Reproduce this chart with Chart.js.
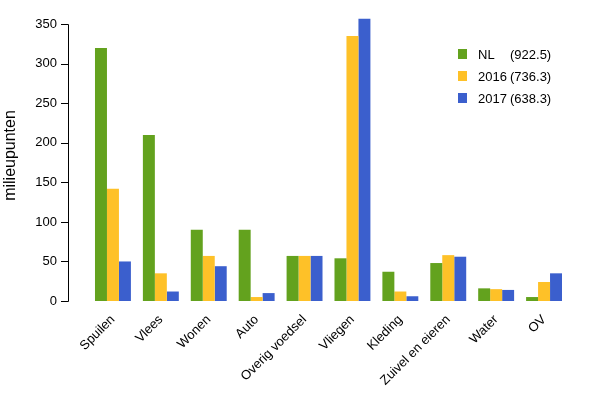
<!DOCTYPE html>
<html lang="nl">
<head>
    <meta charset="UTF-8">
    <title>Milieupunten per categorie</title>
    <script src="https://cdn.jsdelivr.net/npm/chart.js"></script>
    <style>
        body {
            margin: 0;
            padding: 0;
            background: #ffffff;
        }
        canvas {
            display: block;
        }
    </style>
</head>
<body>
    <canvas id="milieuChart" width="600" height="400"></canvas>

    <script>
        // data
        const categories = ['Spuilen', 'Vlees', 'Wonen', 'Auto', 'Overig voedsel', 'Vliegen', 'Kleding', 'Zuivel en eieren', 'Water', 'OV'];
        const nlValues = [320, 210, 90, 90, 57, 54, 37, 48, 16, 5];
        const values2016 = [142, 35, 57, 5, 57, 335, 12, 58, 15, 24];
        const values2017 = [50, 12, 44, 10, 57, 357, 6, 56, 14, 35];
        const seriesNames = ['NL', '2016', '2017'];
        const seriesTotals = ['(922.5)', '(736.3)', '(638.3)'];
        const yTicks = [0, 50, 100, 150, 200, 250, 300, 350];

        const colors = ['#63a21e', '#fec128', '#3b5fcd'];
        const font = "'Liberation Sans', Arial, sans-serif";

        // R-style y axis: line and ticks set off to the left of the bars
        const rAxisPlugin = {
            id: 'rAxis',
            afterDraw(chart) {
                const ctx = chart.ctx;
                const y = chart.scales.y;
                const x0 = chart.chartArea.left - 21;
                ctx.save();
                ctx.strokeStyle = '#000';
                ctx.lineWidth = 1;
                ctx.beginPath();
                ctx.moveTo(x0 + 0.5, Math.round(y.getPixelForValue(yTicks[0])) + 0.5);
                ctx.lineTo(x0 + 0.5, Math.round(y.getPixelForValue(yTicks[yTicks.length - 1])) + 0.5);
                yTicks.forEach(v => {
                    const py = Math.round(y.getPixelForValue(v)) + 0.5;
                    ctx.moveTo(x0 - 7, py);
                    ctx.lineTo(x0 + 0.5, py);
                });
                ctx.stroke();
                ctx.restore();
            }
        };

        // legend drawn inside the plot, top right
        const legendPlugin = {
            id: 'innerLegend',
            afterDraw(chart) {
                const ctx = chart.ctx;
                ctx.save();
                ctx.font = '13px ' + font;
                ctx.textBaseline = 'middle';
                ctx.fillStyle = '#000';
                seriesNames.forEach((name, i) => {
                    const cy = 54 + i * 22;
                    ctx.fillStyle = colors[i];
                    ctx.fillRect(458, cy - 5, 9, 10);
                    ctx.fillStyle = '#000';
                    ctx.fillText(name, 478, cy + 1);
                    ctx.fillText(seriesTotals[i], 510, cy + 1);
                });
                ctx.restore();
            }
        };

        const ctx = document.getElementById('milieuChart').getContext('2d');
        const chart = new Chart(ctx, {
            type: 'bar',
            data: {
                labels: categories,
                datasets: [
                    { label: seriesNames[0], data: nlValues, backgroundColor: colors[0] },
                    { label: seriesNames[1], data: values2016, backgroundColor: colors[1] },
                    { label: seriesNames[2], data: values2017, backgroundColor: colors[2] }
                ]
            },
            options: {
                responsive: false,
                animation: false,
                layout: {
                    padding: { top: 10, right: 32, left: 0, bottom: 0 }
                },
                datasets: {
                    bar: {
                        categoryPercentage: 0.75,
                        barPercentage: 1.0
                    }
                },
                scales: {
                    x: {
                        grid: { display: false, drawTicks: false },
                        border: { display: false },
                        ticks: {
                            color: '#000',
                            font: { family: font, size: 13 },
                            minRotation: 45,
                            maxRotation: 45,
                            padding: 11,
                            autoSkip: false
                        },
                        afterFit(scale) {
                            scale.height = 99;
                        }
                    },
                    y: {
                        min: 0,
                        max: 368,
                        grid: { display: false, drawTicks: false },
                        border: { display: false },
                        ticks: {
                            stepSize: 50,
                            color: '#000',
                            font: { family: font, size: 13 },
                            padding: 32
                        },
                        afterBuildTicks(scale) {
                            scale.ticks = yTicks.map(v => ({ value: v }));
                        },
                        afterFit(scale) {
                            scale.width = 89;
                            // the big label padding should not push the plot down
                            scale.paddingTop = 7;
                            scale.paddingBottom = 7;
                        },
                        title: {
                            display: true,
                            text: 'milieupunten',
                            color: '#000',
                            font: { family: font, size: 16 },
                            padding: { top: 1, bottom: 0 }
                        }
                    }
                },
                plugins: {
                    legend: { display: false },
                    tooltip: { enabled: false }
                }
            },
            plugins: [rAxisPlugin, legendPlugin]
        });
    </script>
</body>
</html>
